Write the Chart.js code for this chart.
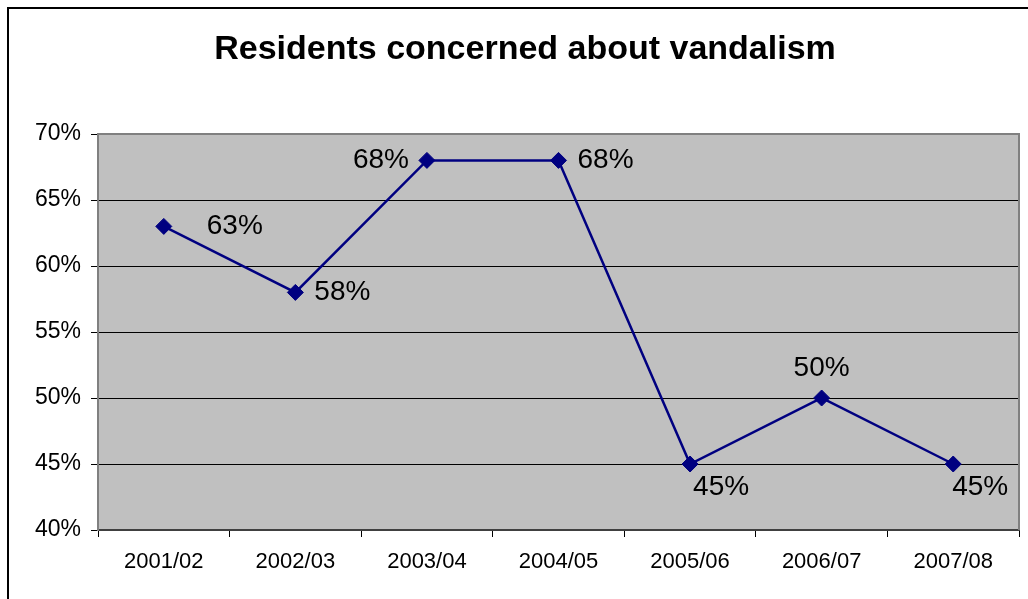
<!DOCTYPE html>
<html>
<head>
<meta charset="utf-8">
<script src="https://cdn.jsdelivr.net/npm/chart.js@4/dist/chart.umd.min.js"></script>
<style>
  html, body { margin: 0; padding: 0; background: #fff; }
  #wrap { width: 1028px; height: 599px; }
</style>
</head>
<body>
<div id="wrap"><canvas id="chart" width="1028" height="599"></canvas></div>
<script>
// Residents concerned about vandalism
var categories = ['2001/02', '2002/03', '2003/04', '2004/05', '2005/06', '2006/07', '2007/08'];
var values = [63, 58, 68, 68, 45, 50, 45];
var yTicks = [40, 45, 50, 55, 60, 65, 70];
var chartTitle = 'Residents concerned about vandalism';

// label placement per point: [dx, dy, align]
var labelPlacement = [
  [43, 0, 'left'], [19, 0, 'left'], [-18, 0, 'right'], [19, 0, 'left'],
  [3, 23, 'left'], [0, -30, 'center'], [-1, 23, 'left']
];

var FONT = '"Liberation Sans", Arial, sans-serif';

var framePlugin = {
  id: 'frame',
  beforeDraw: function (chart) {
    var ctx = chart.ctx, a = chart.chartArea;
    ctx.save();
    ctx.fillStyle = '#fff';
    ctx.fillRect(0, 0, chart.width, chart.height);
    ctx.fillStyle = '#c0c0c0';
    ctx.fillRect(a.left, a.top, a.right - a.left, a.bottom - a.top);
    // outer chart border (runs off right / bottom)
    ctx.strokeStyle = '#000';
    ctx.lineWidth = 2;
    ctx.beginPath();
    ctx.moveTo(8, chart.height + 2);
    ctx.lineTo(8, 8);
    ctx.lineTo(chart.width + 2, 8);
    ctx.stroke();
    // title
    ctx.fillStyle = '#000';
    ctx.font = 'bold 34px ' + FONT;
    ctx.textAlign = 'center';
    ctx.textBaseline = 'middle';
    ctx.fillText(chartTitle, 525, 50);
    ctx.restore();
  },
  afterDraw: function (chart) {
    var ctx = chart.ctx, a = chart.chartArea;
    ctx.save();
    ctx.strokeStyle = '#808080';
    ctx.lineWidth = 2;
    ctx.beginPath();
    ctx.moveTo(a.left, a.top);
    ctx.lineTo(a.right, a.top);
    ctx.lineTo(a.right, a.bottom);
    ctx.stroke();
    ctx.restore();
  }
};

var labelPlugin = {
  id: 'pointLabels',
  afterDatasetsDraw: function (chart) {
    var ctx = chart.ctx;
    var meta = chart.getDatasetMeta(0);
    ctx.save();
    ctx.fillStyle = '#000';
    ctx.font = '28px ' + FONT;
    ctx.textBaseline = 'middle';
    meta.data.forEach(function (pt, i) {
      var p = labelPlacement[i];
      ctx.textAlign = p[2];
      ctx.fillText(values[i] + '%', pt.x + p[0], pt.y + p[1]);
    });
    ctx.restore();
  }
};

new Chart(document.getElementById('chart'), {
  type: 'line',
  data: {
    labels: categories,
    datasets: [{
      data: values,
      borderColor: '#000080',
      backgroundColor: '#000080',
      borderWidth: 2.5,
      pointStyle: 'rectRot',
      pointRadius: 8,
      pointBorderWidth: 1,
      tension: 0,
      clip: false
    }]
  },
  options: {
    responsive: false,
    animation: false,
    devicePixelRatio: 1,
    layout: { padding: { left: 8, right: 8, top: 134, bottom: 0 } },
    plugins: {
      legend: { display: false },
      title: { display: false },
      tooltip: { enabled: false }
    },
    scales: {
      x: {
        offset: true,
        grid: { offset: true, drawOnChartArea: false, drawTicks: true, tickLength: 7, color: '#000', lineWidth: 1 },
        border: { display: true, color: '#404040', width: 2 },
        ticks: { color: '#000', font: { family: FONT, size: 22 }, padding: 12, maxRotation: 0 },
        afterFit: function (s) { s.height = 69; }
      },
      y: {
        min: 40,
        max: 70,
        afterBuildTicks: function (s) { s.ticks = yTicks.map(function (v) { return { value: v }; }); },
        grid: { color: '#000', lineWidth: 1, tickLength: 7, drawTicks: true },
        border: { display: true, color: '#808080', width: 2 },
        ticks: {
          color: '#000', font: { family: FONT, size: 23 }, padding: 10,
          callback: function (v) { return v + '%'; }
        },
        afterFit: function (s) { s.width = 90; }
      }
    }
  },
  plugins: [framePlugin, labelPlugin]
});
</script>
</body>
</html>
